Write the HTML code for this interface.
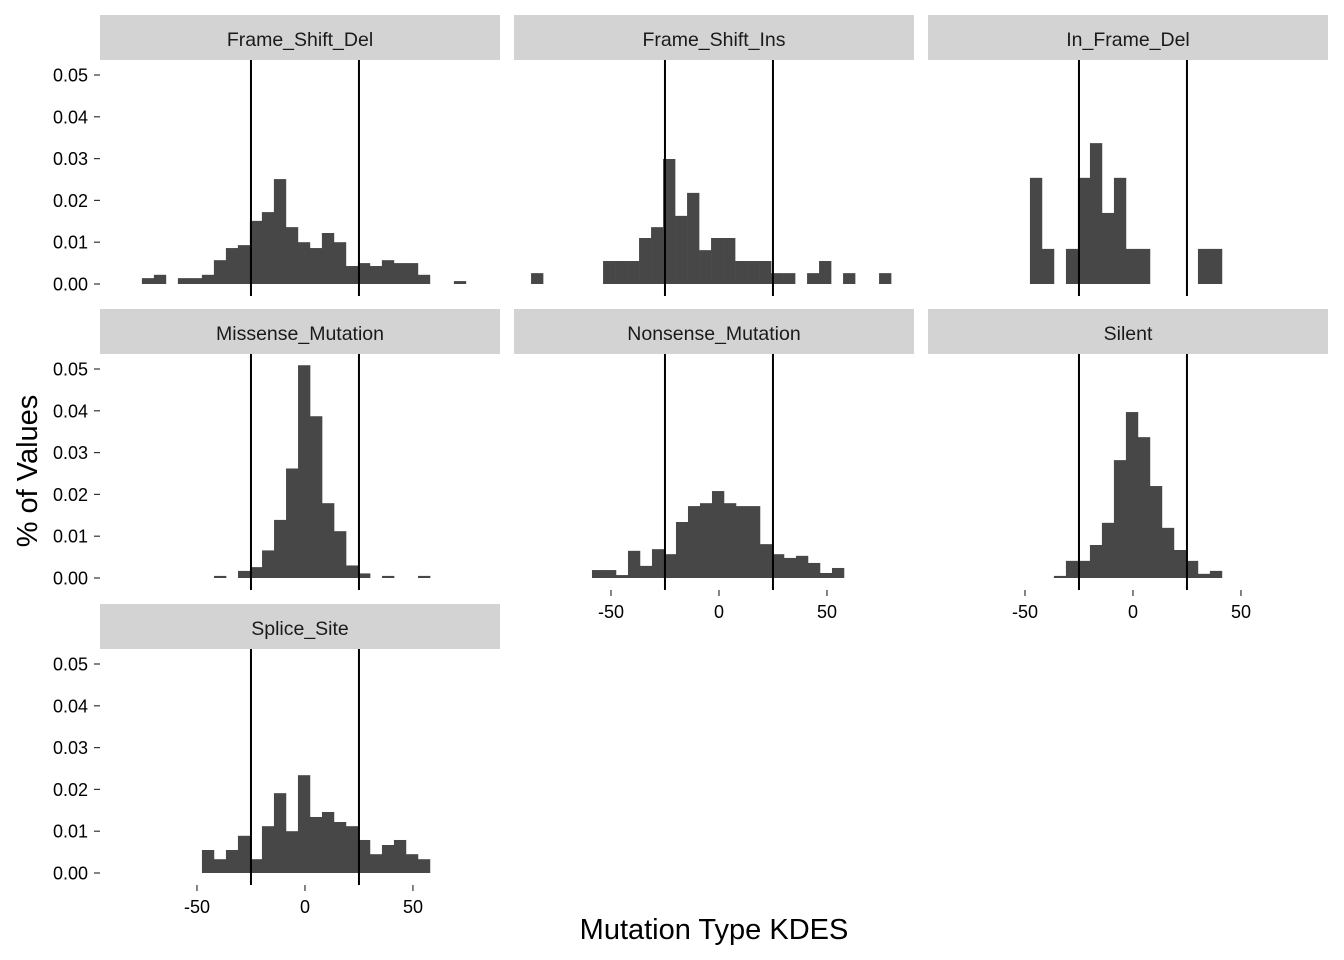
<!DOCTYPE html>
<html><head><meta charset="utf-8"><style>
html,body{margin:0;padding:0;background:#fff;}
svg{display:block;font-family:"Liberation Sans",Arial,sans-serif;}
</style></head><body>
<svg id="chart" width="1344" height="960" xmlns="http://www.w3.org/2000/svg"></svg>
<script>
const panelNames = ["Frame_Shift_Del","Frame_Shift_Ins","In_Frame_Del","Missense_Mutation","Nonsense_Mutation","Silent","Splice_Site"];
const binStarts = [-75.5,-87.0,-47.7,-42.1,-58.8,-36.6,-47.7];
const binWidth = 5.556;
const fsdValues = [0.0014,0.0022,0,0.0014,0.0014,0.0022,0.0057,0.0086,0.0093,0.0151,0.0172,0.0251,0.0136,0.0100,0.0086,0.0122,0.0100,0.0043,0.0050,0.0043,0.0057,0.0050,0.0050,0.0022,0,0,0.0007];
const fsiValues = [0.0026,0,0,0,0,0,0.0055,0.0055,0.0055,0.011,0.0136,0.0299,0.0163,0.0218,0.0081,0.011,0.011,0.0055,0.0055,0.0055,0.0026,0.0026,0,0.0026,0.0055,0,0.0026,0,0,0.0026];
const ifdValues = [0.0254,0.0084,0,0.0084,0.0254,0.0337,0.0170,0.0254,0.0084,0.0084,0,0,0,0,0.0084,0.0084];
const missenseValues = [0.0005,0,0.0017,0.0026,0.0066,0.0139,0.0262,0.0509,0.0387,0.0179,0.0112,0.0030,0.0011,0,0.0005,0,0,0.0005];
const nonsenseValues = [0.0019,0.0019,0.0007,0.0065,0.0029,0.0069,0.0057,0.0134,0.0172,0.0179,0.0208,0.0179,0.0172,0.0172,0.0081,0.0057,0.0048,0.0053,0.0036,0.0012,0.0024];
const silentValues = [0.0005,0.0041,0.0041,0.0079,0.0132,0.0282,0.0397,0.0337,0.0220,0.0120,0.0067,0.0041,0.0010,0.0017];
const spliceValues = [0.0055,0.0033,0.0055,0.0089,0.0033,0.0112,0.0191,0.0100,0.0234,0.0134,0.0146,0.0122,0.0112,0.0079,0.0045,0.0067,0.0079,0.0045,0.0033];
const seriesList = [fsdValues,fsiValues,ifdValues,missenseValues,nonsenseValues,silentValues,spliceValues];
const yTicks = [0,0.01,0.02,0.03,0.04,0.05];
const yTickLabels = ["0.00","0.01","0.02","0.03","0.04","0.05"];
const xTicks = [-50,0,50];
const vLines = [-25,25];

const NS="http://www.w3.org/2000/svg";
const svg=document.getElementById('chart');
function mk(tag,attrs,parent){const e=document.createElementNS(NS,tag);for(const k in attrs)e.setAttribute(k,attrs[k]);(parent||svg).appendChild(e);return e;}
const colX=[100,514,928], rowY=[15,309,604], pW=400, stripH=45, plotH=236;
const xDom=[-94.9,90.3];
function xs(v,px){return px+(v-xDom[0])/(xDom[1]-xDom[0])*pW;}
function ys(v,py){return py+stripH+224-v*4180;}

panelNames.forEach((name,i)=>{
  const c=i%3, r=Math.floor(i/3), px=colX[c], py=rowY[r];
  const g=mk('g',{});
  
  
  const st=mk('rect',{x:px,y:py,width:pW,height:stripH,fill:'#d3d3d3'},g);
  
  
  const tl=mk('text',{x:px+pW/2,y:py+31,'text-anchor':'middle','font-size':19.5,fill:'#1a1a1a'},g);
  tl.textContent=name;
  
  
  const vals=seriesList[i];
  vals.forEach((v,j)=>{
    if(v<=0)return;
    const x0=xs(binStarts[i]+j*binWidth,px), x1=xs(binStarts[i]+(j+1)*binWidth,px);
    const y0=ys(v,py), yb=ys(0,py);
    const b=mk('rect',{x:x0,y:y0,width:x1-x0+0.3,height:Math.max(yb-y0,1),fill:'#474747'},g);
    
    
  });
  vLines.forEach(v=>{
    const l=mk('line',{x1:xs(v,px),x2:xs(v,px),y1:py+stripH,y2:py+stripH+plotH,stroke:'#000','stroke-width':2},g);
    
    
  });
  if(c===0){
    yTicks.forEach((t,k)=>{
      const y=ys(t,py);
      const tm=mk('line',{x1:px-6,x2:px,y1:y,y2:y,stroke:'#333','stroke-width':1.2},g);
      
      
      const lb=mk('text',{x:px-12,y:y+6.5,'text-anchor':'end','font-size':18,fill:'#000'},g);
      lb.textContent=yTickLabels[k];
      
      
    });
  }
  if(i>=4){
    xTicks.forEach(t=>{
      const x=xs(t,px), yb=py+stripH+plotH;
      const tm=mk('line',{x1:x,x2:x,y1:yb,y2:yb+6,stroke:'#333','stroke-width':1.2},g);
      
      
      const lb=mk('text',{x:x,y:yb+28,'text-anchor':'middle','font-size':18,fill:'#000'},g);
      lb.textContent=t;
      
      
    });
  }
});
const xt=mk('text',{x:714,y:939,'text-anchor':'middle','font-size':29,fill:'#000'});
xt.textContent='Mutation Type KDES';


const yt=mk('text',{x:0,y:0,'text-anchor':'middle','font-size':29,fill:'#000',transform:'translate(37,471) rotate(-90)'});
yt.textContent='% of Values';


</script>
</body></html>
